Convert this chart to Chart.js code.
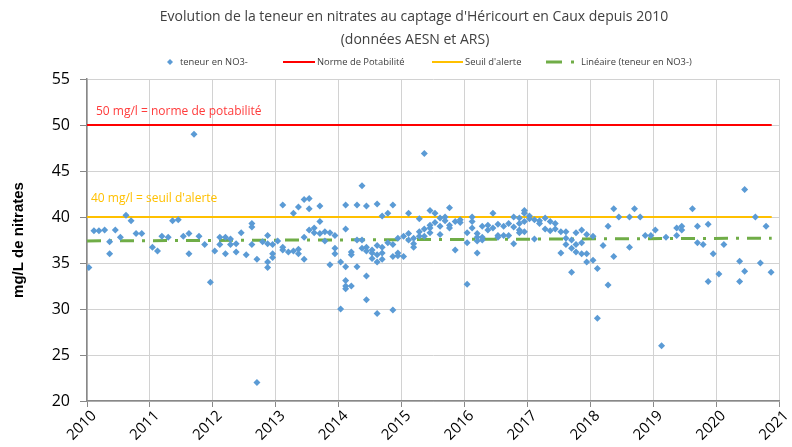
<!DOCTYPE html>
<html>
<head>
<meta charset="utf-8">
<script src="https://cdn.jsdelivr.net/npm/chart.js@4/dist/chart.umd.min.js"></script>
<style>
  html, body { margin: 0; padding: 0; background: #fff; }
</style>
</head>
<body>
<canvas id="chartNitrates" width="792" height="447"></canvas>
<script>
// Données (année décimale / teneur en mg/l)
const sampleYears = [
  2010.03, 2010.11, 2010.19, 2010.28, 2010.36, 2010.36, 2010.45, 2010.53, 2010.62, 2010.70, 2010.78, 2010.87,
  2011.04, 2011.12, 2011.19, 2011.29, 2011.36, 2011.45, 2011.53, 2011.62, 2011.62, 2011.70, 2011.78, 2011.87, 2011.96,
  2012.03, 2012.11, 2012.11, 2012.20, 2012.20, 2012.28, 2012.28, 2012.37, 2012.37, 2012.45, 2012.53, 2012.62, 2012.62,
  2012.62, 2012.70, 2012.70, 2012.79, 2012.87, 2012.87, 2012.87, 2012.87, 2012.95, 2012.95, 2012.95,
  2013.03, 2013.11, 2013.11, 2013.11, 2013.20, 2013.28, 2013.28, 2013.36, 2013.36, 2013.36, 2013.45, 2013.45, 2013.45,
  2013.53, 2013.53, 2013.53, 2013.61, 2013.61, 2013.70, 2013.70, 2013.70, 2013.78, 2013.78, 2013.86, 2013.86,
  2013.94, 2013.94, 2013.94,
  2014.03, 2014.03, 2014.11, 2014.11, 2014.11, 2014.11, 2014.11, 2014.11, 2014.20, 2014.20, 2014.20, 2014.29, 2014.29,
  2014.29, 2014.37, 2014.37, 2014.37, 2014.44, 2014.44, 2014.44, 2014.44, 2014.44, 2014.53, 2014.53, 2014.53, 2014.61,
  2014.61, 2014.61, 2014.61, 2014.61, 2014.69, 2014.69, 2014.69, 2014.69, 2014.78, 2014.78, 2014.86, 2014.86, 2014.86,
  2014.86, 2014.94, 2014.94, 2014.94,
  2015.03, 2015.03, 2015.11, 2015.11, 2015.11, 2015.19, 2015.19, 2015.19, 2015.28, 2015.28, 2015.28, 2015.36, 2015.36,
  2015.36, 2015.45, 2015.45, 2015.45, 2015.45, 2015.53, 2015.53, 2015.61, 2015.61, 2015.61, 2015.69, 2015.69, 2015.76,
  2015.76, 2015.76, 2015.85, 2015.85, 2015.93, 2015.93,
  2016.04, 2016.04, 2016.04, 2016.12, 2016.12, 2016.12, 2016.20, 2016.20, 2016.20, 2016.20, 2016.28, 2016.28, 2016.28,
  2016.37, 2016.37, 2016.45, 2016.45, 2016.53, 2016.53, 2016.53, 2016.62, 2016.62, 2016.70, 2016.70, 2016.78, 2016.78,
  2016.78, 2016.87, 2016.87, 2016.87, 2016.87, 2016.95, 2016.95, 2016.95, 2016.95,
  2017.03, 2017.03, 2017.11, 2017.11, 2017.19, 2017.19, 2017.28, 2017.28, 2017.36, 2017.36, 2017.44, 2017.44, 2017.53,
  2017.53, 2017.61, 2017.61, 2017.61, 2017.70, 2017.70, 2017.70, 2017.77, 2017.77, 2017.77, 2017.86, 2017.86, 2017.86,
  2017.94, 2017.94, 2017.94,
  2018.04, 2018.04, 2018.11, 2018.11, 2018.20, 2018.28, 2018.28, 2018.37, 2018.37, 2018.45, 2018.62, 2018.62, 2018.70,
  2018.79, 2018.87, 2018.96,
  2019.03, 2019.13, 2019.20, 2019.37, 2019.37, 2019.45, 2019.45, 2019.62, 2019.70, 2019.70, 2019.79, 2019.87, 2019.87,
  2019.95,
  2020.04, 2020.12, 2020.37, 2020.37, 2020.45, 2020.45, 2020.62, 2020.70, 2020.79, 2020.87
];

const nitrateValues = [
  34.5, 38.5, 38.5, 38.6, 37.3, 36.0, 38.6, 37.8, 40.2, 39.6, 38.2, 38.2,
  36.7, 36.3, 37.9, 37.8, 39.6, 39.7, 37.9, 38.2, 36.0, 49.0, 37.9, 37.0, 32.9,
  36.3, 37.8, 37.0, 37.8, 36.0, 37.6, 37.0, 37.1, 36.2, 38.3, 35.9, 39.3, 38.9,
  37.0, 35.4, 22.0, 37.3, 38.0, 37.1, 35.1, 34.5, 37.0, 36.0, 35.6,
  37.4, 41.3, 36.7, 36.4, 36.2, 40.4, 36.3, 41.1, 36.5, 36.0, 41.9, 37.8, 35.4,
  42.0, 40.9, 38.6, 38.8, 38.3, 41.2, 39.5, 38.2, 38.4, 37.4, 38.3, 34.8,
  38.0, 36.6, 36.0,
  35.1, 30.0, 41.3, 38.7, 34.6, 33.1, 32.5, 32.2, 36.2, 35.9, 32.5, 41.3, 37.5,
  34.6, 43.4, 37.5, 36.6, 41.2, 36.7, 36.3, 33.6, 31.0, 36.4, 36.1, 35.5, 41.4,
  36.9, 35.9, 35.1, 29.5, 40.1, 36.7, 36.1, 35.4, 40.4, 37.2, 41.3, 37.0, 35.7,
  29.9, 37.7, 36.1, 35.8,
  37.9, 35.7, 40.4, 38.2, 37.5, 37.7, 37.1, 36.7, 39.8, 38.4, 37.9, 46.9, 38.7,
  37.9, 40.7, 39.1, 38.8, 38.3, 40.4, 39.4, 39.9, 39.0, 38.1, 40.0, 39.6, 41.0,
  39.1, 38.8, 39.5, 36.4, 39.7, 39.4,
  38.3, 37.2, 32.7, 40.0, 39.5, 38.8, 38.2, 37.8, 37.4, 36.1, 39.0, 37.8, 37.5,
  39.1, 38.6, 40.4, 38.8, 39.2, 38.0, 37.8, 39.0, 38.0, 39.3, 38.0, 40.0, 38.9,
  37.1, 39.9, 39.3, 38.6, 38.3, 40.7, 40.4, 39.5, 38.4,
  40.1, 39.8, 39.7, 37.6, 39.6, 39.3, 39.9, 38.7, 39.5, 38.5, 39.3, 38.7, 38.4,
  36.1, 38.4, 37.7, 37.0, 37.5, 36.6, 34.0, 38.3, 37.0, 36.2, 38.6, 37.2, 36.0,
  38.1, 36.0, 35.1,
  37.9, 35.3, 34.4, 29.0, 36.9, 39.0, 32.6, 40.9, 35.7, 40.0, 40.0, 36.7, 40.9,
  40.0, 38.0, 38.0,
  38.6, 26.0, 37.8, 38.8, 38.0, 39.0, 38.6, 40.9, 39.0, 37.2, 37.0, 39.2, 33.0,
  36.0,
  33.8, 37.0, 35.2, 33.0, 43.0, 34.1, 40.0, 35.0, 39.0, 34.0
];

// Lignes de référence : début / fin en années, valeurs en mg/l
const refLineYears = [2010, 2020.88];
const normePotabilite = [50, 50];
const seuilAlerte = [40, 40];
const tendanceLineaire = [37.4, 37.7];

const xTicks = [2010, 2011, 2012, 2013, 2014, 2015, 2016, 2017, 2018, 2019, 2020, 2021];

const titleLines = [
  "Evolution de la teneur en nitrates au captage d'Héricourt en Caux depuis 2010",
  "(données AESN et ARS)"
];

const couleurs = {
  points: '#5B9BD5',
  norme: '#FF0000',
  seuil: '#FFC000',
  tendance: '#70AD47'
};

function toPoints(xs, ys) {
  return xs.map((x, i) => ({ x: x, y: ys[i] }));
}

// Titre, légende et textes des seuils dessinés à la main
const decorPlugin = {
  id: 'decor',
  afterDraw(chart) {
    const { ctx } = chart;
    const x = chart.scales.x;
    const y = chart.scales.y;
    ctx.save();

    // titre
    ctx.fillStyle = '#404040';
    ctx.font = '14px "Open Sans"';
    ctx.textAlign = 'center';
    ctx.textBaseline = 'middle';
    ctx.fillText(titleLines[0], 414, 17);
    ctx.fillText(titleLines[1], 415, 40);

    // légende
    const ly = 62;
    ctx.font = '9.4px "Open Sans"';
    ctx.textAlign = 'left';
    ctx.fillStyle = '#404040';

    ctx.save();
    ctx.fillStyle = couleurs.points;
    ctx.beginPath();
    ctx.moveTo(170, ly - 3); ctx.lineTo(173, ly); ctx.lineTo(170, ly + 3); ctx.lineTo(167, ly);
    ctx.closePath();
    ctx.fill();
    ctx.restore();
    ctx.fillText('teneur en NO3-', 180, ly);

    ctx.lineWidth = 2;
    ctx.strokeStyle = couleurs.norme;
    ctx.beginPath(); ctx.moveTo(283, ly); ctx.lineTo(315, ly); ctx.stroke();
    ctx.fillText('Norme de Potabilité', 317, ly);

    ctx.strokeStyle = couleurs.seuil;
    ctx.beginPath(); ctx.moveTo(432, ly); ctx.lineTo(463, ly); ctx.stroke();
    ctx.fillText("Seuil d'alerte", 465, ly);

    ctx.lineWidth = 3;
    ctx.strokeStyle = couleurs.tendance;
    ctx.beginPath(); ctx.moveTo(546, ly); ctx.lineTo(562, ly); ctx.stroke();
    ctx.beginPath(); ctx.moveTo(571, ly); ctx.lineTo(574, ly); ctx.stroke();
    ctx.fillText('Linéaire (teneur en NO3-)', 581, ly);

    // textes des seuils
    const x0 = x.getPixelForValue(2010);
    ctx.font = '12px "Open Sans"';
    ctx.fillStyle = '#FF3B3B';
    ctx.fillText('50 mg/l = norme de potabilité', x0 + 9, y.getPixelForValue(50) - 13);
    ctx.fillStyle = couleurs.seuil;
    ctx.fillText("40 mg/l = seuil d'alerte", x0 + 4, y.getPixelForValue(40) - 18);

    ctx.restore();
  }
};

new Chart(document.getElementById('chartNitrates'), {
  type: 'scatter',
  data: {
    datasets: [
      {
        label: 'teneur en NO3-',
        data: toPoints(sampleYears, nitrateValues),
        pointStyle: 'rectRot',
        pointRadius: 3.5,
        pointBackgroundColor: couleurs.points,
        pointBorderWidth: 0,
        showLine: false
      },
      {
        label: 'Norme de Potabilité',
        data: toPoints(refLineYears, normePotabilite),
        showLine: true,
        borderColor: couleurs.norme,
        borderWidth: 2,
        pointRadius: 0
      },
      {
        label: "Seuil d'alerte",
        data: toPoints(refLineYears, seuilAlerte),
        showLine: true,
        borderColor: couleurs.seuil,
        borderWidth: 2,
        pointRadius: 0
      },
      {
        label: 'Linéaire (teneur en NO3-)',
        data: toPoints(refLineYears, tendanceLineaire),
        showLine: true,
        borderColor: couleurs.tendance,
        borderWidth: 3,
        borderDash: [14, 8, 3, 8],
        pointRadius: 0
      }
    ]
  },
  options: {
    responsive: false,
    animation: false,
    layout: { padding: { top: 79, right: 9, left: 0, bottom: 0 } },
    plugins: {
      legend: { display: false },
      title: { display: false },
      tooltip: { enabled: false }
    },
    scales: {
      x: {
        type: 'linear',
        min: 2010,
        max: 2021,
        afterBuildTicks: scale => { scale.ticks = xTicks.map(v => ({ value: v })); },
        afterFit: scale => { scale.height = 46; },
        ticks: {
          color: '#000',
          font: { family: '"Open Sans"', size: 15 },
          minRotation: 45,
          maxRotation: 45,
          padding: 0,
          labelOffset: 7,
          callback: value => String(value)
        },
        grid: { color: '#D2D2D2', tickLength: 6, tickColor: '#888' },
        border: { color: '#888', width: 1.5 }
      },
      y: {
        min: 20,
        max: 55,
        afterFit: scale => { scale.width = 87; },
        ticks: {
          stepSize: 5,
          color: '#000',
          font: { family: '"Open Sans"', size: 16 },
          padding: 10
        },
        title: {
          display: true,
          text: 'mg/L de nitrates',
          color: '#000',
          font: { family: '"Liberation Sans"', size: 15, weight: 'bold' },
          padding: { top: 10, bottom: 0 }
        },
        grid: { color: '#D2D2D2', tickLength: 7, tickColor: '#888' },
        border: { color: '#888', width: 1.5 }
      }
    }
  },
  plugins: [decorPlugin]
});
</script>
</body>
</html>
